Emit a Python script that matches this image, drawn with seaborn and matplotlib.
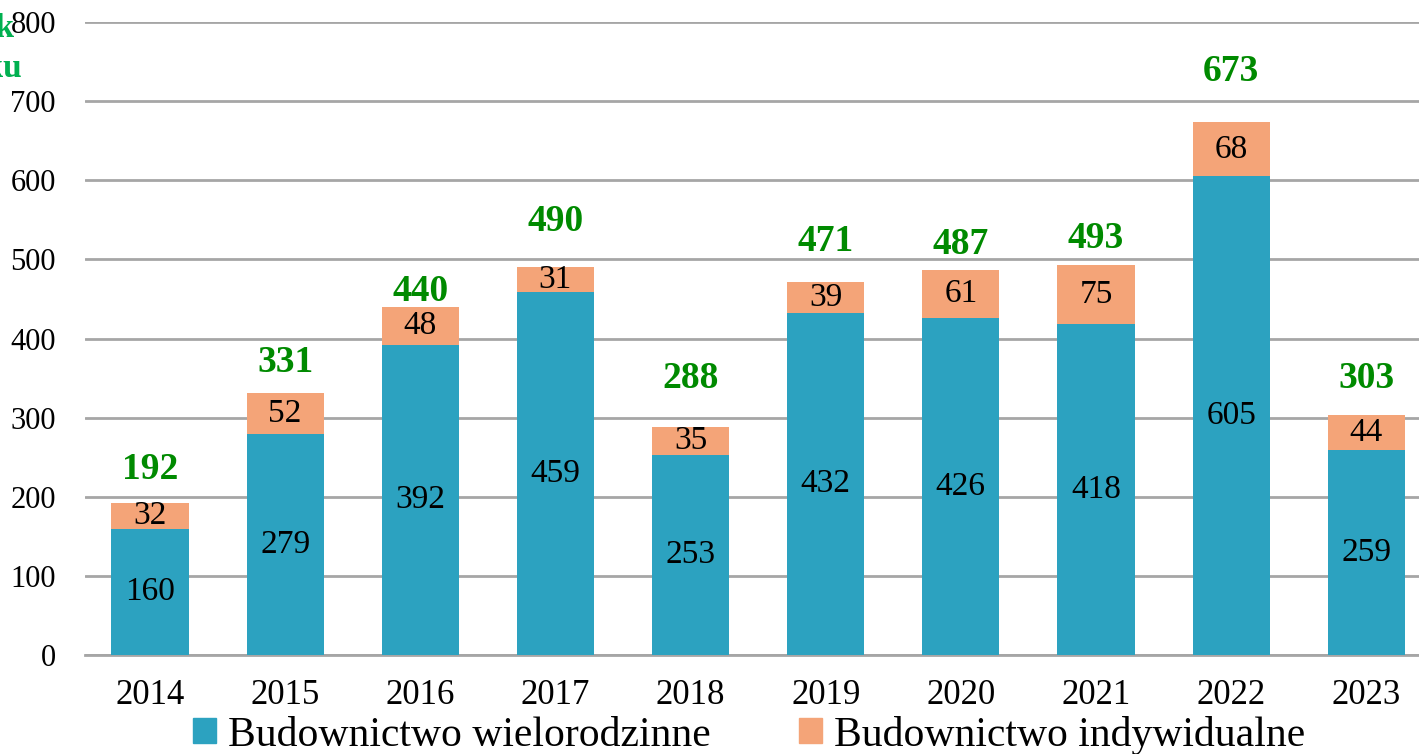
import pandas as pd
import matplotlib.pyplot as plt
import seaborn as sns
import numpy as np

# dane
lata = ['2014', '2015', '2016', '2017', '2018', '2019', '2020', '2021', '2022', '2023']
wielorodzinne = [160, 279, 392, 459, 253, 432, 426, 418, 605, 259]
indywidualne = [32, 52, 48, 31, 35, 39, 61, 75, 68, 44]
razem = [192, 331, 440, 490, 288, 471, 487, 493, 673, 303]

# przesuniecie etykiet sum nad slupkami (jednostki osi Y)
przesuniecie = [42, 39, 20, 58, 62, 51, 32, 34, 64, 46]

kolor_wielo = '#2ca2c0'
kolor_indyw = '#f4a478'
zielony = '#008a00'

df = pd.DataFrame({
    'Rok': lata,
    'Wielorodzinne': wielorodzinne,
    'Indywidualne': indywidualne,
})
df['Suma'] = df['Wielorodzinne'] + df['Indywidualne']

sns.set_theme(style='white')
plt.rcParams['font.family'] = ['Liberation Serif', 'DejaVu Serif']
plt.rcParams['text.color'] = 'black'

fig = plt.figure(figsize=(14.19, 7.54), dpi=100)
ax = fig.add_axes([0.06, 0.131, 0.94, 0.84])

sns.barplot(data=df, x='Rok', y='Suma', color=kolor_indyw, width=0.57,
            saturation=1, linewidth=0, ax=ax, zorder=2)
sns.barplot(data=df, x='Rok', y='Wielorodzinne', color=kolor_wielo, width=0.57,
            saturation=1, linewidth=0, ax=ax, zorder=3)

ax.set_ylim(0, 800)
ax.set_xlim(-0.48, 9.39)
ax.set_yticks(range(0, 801, 100))
ax.yaxis.grid(True, color='#a6a6a6', linewidth=2, zorder=0)
ax.set_axisbelow(True)
for s in ['top', 'right', 'left']:
    ax.spines[s].set_visible(False)
ax.spines['bottom'].set_color('#a6a6a6')
ax.spines['bottom'].set_linewidth(2)
ax.set_xlabel('')
ax.set_ylabel('')
ax.tick_params(axis='both', length=0, colors='black')
ax.tick_params(axis='y', labelsize=22, pad=21)
ax.tick_params(axis='x', labelsize=25, pad=17)

for i in range(len(lata)):
    w = wielorodzinne[i]
    d = indywidualne[i]
    ax.text(i, w / 2, str(w), ha='center', va='center', fontsize=24,
            color='black', zorder=4)
    ax.text(i, w + d / 2, str(d), ha='center', va='center', fontsize=24,
            color='black', zorder=4)
    ax.text(i, razem[i] + przesuniecie[i], str(razem[i]), ha='center', va='center',
            fontsize=27, fontweight='bold', color=zielony, zorder=4)

# ucieta etykieta osi w lewym gornym rogu
fig.text(0.010, 0.962, 'Liczba mieszkań w rok', ha='right', va='center',
         fontsize=24, fontweight='bold', color='#00b050')
fig.text(0.0155, 0.909, 'oddanych do użytku', ha='right', va='center',
         fontsize=24, fontweight='bold', color='#00b050')

uchwyty = [plt.Rectangle((0, 0), 1, 1, color=kolor_wielo),
           plt.Rectangle((0, 0), 1, 1, color=kolor_indyw)]
leg = fig.legend(uchwyty, ['Budownictwo wielorodzinne', 'Budownictwo indywidualne'],
                 loc='center', bbox_to_anchor=(0.528, 0.025), ncol=2, frameon=False,
                 fontsize=30, handlelength=0.55, handleheight=0.55, handletextpad=0.3,
                 columnspacing=2.1, borderpad=0)
for t in leg.get_texts():
    t.set_color('black')

fig.savefig('out.png', dpi=100)
